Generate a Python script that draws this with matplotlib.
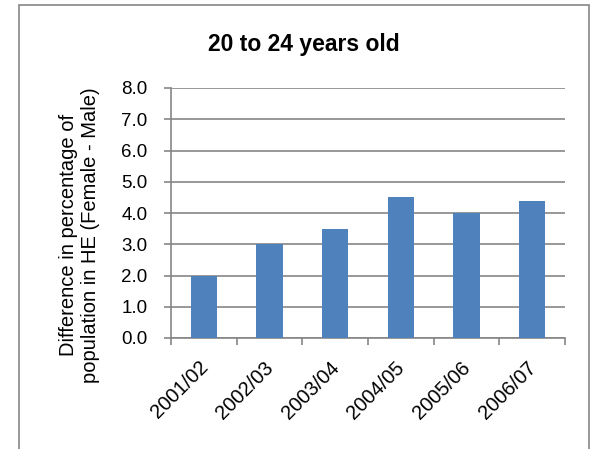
import matplotlib.pyplot as plt
from matplotlib.patches import Rectangle
from matplotlib.transforms import ScaledTranslation

# Datos del gráfico
years = ["2001/02", "2002/03", "2003/04", "2004/05", "2005/06", "2006/07"]
difference = [2.0, 3.0, 3.5, 4.5, 4.0, 4.4]
y_ticks = [0.0, 1.0, 2.0, 3.0, 4.0, 5.0, 6.0, 7.0, 8.0]

plt.rcParams['font.family'] = ['Liberation Sans', 'DejaVu Sans']
grey = '#868686'

fig = plt.figure(figsize=(5.95, 4.49), dpi=100)
ax = fig.add_axes([171 / 595, 1 - 338 / 449, (565 - 171) / 595, (338 - 88) / 449])

# Marco exterior del gráfico
fig.patches.append(Rectangle((19 / 595, -0.1), 570 / 595, 1.1 - 5 / 449,
                             transform=fig.transFigure, fill=False,
                             edgecolor=grey, linewidth=1.2))

x = range(len(years))
ax.bar(x, difference, width=0.4, color='#4F81BD', zorder=3)

ax.set_xlim(-0.5, len(years) - 0.5)
ax.set_ylim(0, 8)
ax.set_yticks(y_ticks)
ax.set_yticklabels([f"{v:.1f}" for v in y_ticks], fontsize=13.5)
ax.yaxis.grid(True, color=grey, linewidth=1.2, zorder=0)

# Marcas del eje x entre categorías
ax.set_xticks([i - 0.5 for i in range(len(years) + 1)])
ax.set_xticklabels([])
ax.set_xticks(list(x), minor=True)
ax.set_xticklabels(years, minor=True, rotation=45, ha='right', va='center',
                   rotation_mode='anchor', fontsize=14.5)
ax.tick_params(axis='x', which='minor', length=0, pad=19)
ax.tick_params(axis='x', which='major', length=5, color=grey, width=1.2)
ax.tick_params(axis='y', length=5, color=grey, width=1.2, pad=12)

offset = ScaledTranslation(1 / 100, 0, fig.dpi_scale_trans)
for label in ax.get_xticklabels(minor=True):
    label.set_transform(label.get_transform() + offset)

for side in ['top', 'right']:
    ax.spines[side].set_visible(False)
for side in ['left', 'bottom']:
    ax.spines[side].set_color(grey)
    ax.spines[side].set_linewidth(1.2)

fig.text(80 / 595, 1 - 235 / 449,
         "Difference in percentage of\npopulation in HE (Female - Male)",
         rotation=90, ha='center', va='center', multialignment='center',
         fontsize=14.5)
fig.text(304 / 595, 1 - 45 / 449, "20 to 24 years old", ha='center', va='center',
         fontsize=16.5, fontweight='bold')

fig.savefig("out.png", dpi=100)
